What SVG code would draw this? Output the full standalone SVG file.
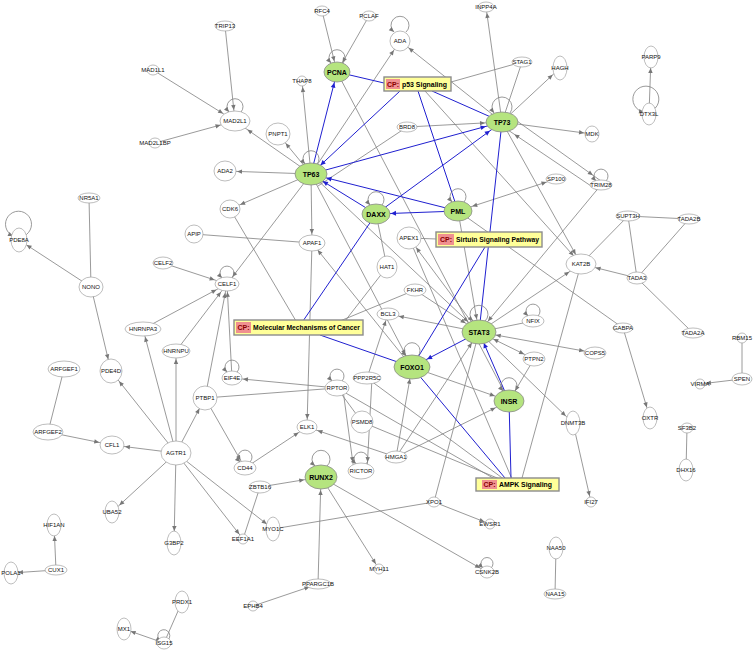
<svg xmlns="http://www.w3.org/2000/svg" width="755" height="651" viewBox="0 0 755 651">
<style>
.n ellipse{fill:#fff;stroke:#a0a0a0;stroke-width:0.7}
.g ellipse{fill:#b5e47f;stroke:#8a8a8a;stroke-width:0.8}
text{font-family:"Liberation Sans",Arial,sans-serif;font-size:6px;text-anchor:middle;dominant-baseline:central;fill:#111}
.g text{font-weight:bold;font-size:7px;fill:#000}
#edges line,#edges path{stroke:#808080;stroke-width:0.8;fill:none}
#edges .b{stroke:#2020d0;stroke-width:1}
.loop{stroke:#808080;stroke-width:0.8;fill:none}
.cpf{fill:#ffff99;stroke:#8c8c8c;stroke-width:1.4}
.cpl{fill:#f09090}
.cpt{font-weight:bold;font-size:7px;fill:#800;text-anchor:middle}
.cpn{font-weight:bold;font-size:7px;text-anchor:start;fill:#000}
</style>
<defs>
<marker id="g0" markerUnits="userSpaceOnUse" viewBox="-30 -5 35 10" markerWidth="35" markerHeight="10" refX="0" refY="0" orient="auto-start-reverse" overflow="visible"><path d="M-5,-2.2 L0,0 L-5,2.2z" fill="#777"/></marker>
<marker id="g6" markerUnits="userSpaceOnUse" viewBox="-30 -5 35 10" markerWidth="35" markerHeight="10" refX="0" refY="0" orient="auto-start-reverse" overflow="visible"><path d="M-11,-2.2 L-6,0 L-11,2.2z" fill="#777"/></marker>
<marker id="g7" markerUnits="userSpaceOnUse" viewBox="-30 -5 35 10" markerWidth="35" markerHeight="10" refX="0" refY="0" orient="auto-start-reverse" overflow="visible"><path d="M-12,-2.2 L-7,0 L-12,2.2z" fill="#777"/></marker>
<marker id="g8" markerUnits="userSpaceOnUse" viewBox="-30 -5 35 10" markerWidth="35" markerHeight="10" refX="0" refY="0" orient="auto-start-reverse" overflow="visible"><path d="M-13,-2.2 L-8,0 L-13,2.2z" fill="#777"/></marker>
<marker id="g9" markerUnits="userSpaceOnUse" viewBox="-30 -5 35 10" markerWidth="35" markerHeight="10" refX="0" refY="0" orient="auto-start-reverse" overflow="visible"><path d="M-14,-2.2 L-9,0 L-14,2.2z" fill="#777"/></marker>
<marker id="g10" markerUnits="userSpaceOnUse" viewBox="-30 -5 35 10" markerWidth="35" markerHeight="10" refX="0" refY="0" orient="auto-start-reverse" overflow="visible"><path d="M-15,-2.2 L-10,0 L-15,2.2z" fill="#777"/></marker>
<marker id="g11" markerUnits="userSpaceOnUse" viewBox="-30 -5 35 10" markerWidth="35" markerHeight="10" refX="0" refY="0" orient="auto-start-reverse" overflow="visible"><path d="M-16,-2.2 L-11,0 L-16,2.2z" fill="#777"/></marker>
<marker id="g12" markerUnits="userSpaceOnUse" viewBox="-30 -5 35 10" markerWidth="35" markerHeight="10" refX="0" refY="0" orient="auto-start-reverse" overflow="visible"><path d="M-17,-2.2 L-12,0 L-17,2.2z" fill="#777"/></marker>
<marker id="g13" markerUnits="userSpaceOnUse" viewBox="-30 -5 35 10" markerWidth="35" markerHeight="10" refX="0" refY="0" orient="auto-start-reverse" overflow="visible"><path d="M-18,-2.2 L-13,0 L-18,2.2z" fill="#777"/></marker>
<marker id="g14" markerUnits="userSpaceOnUse" viewBox="-30 -5 35 10" markerWidth="35" markerHeight="10" refX="0" refY="0" orient="auto-start-reverse" overflow="visible"><path d="M-19,-2.2 L-14,0 L-19,2.2z" fill="#777"/></marker>
<marker id="g15" markerUnits="userSpaceOnUse" viewBox="-30 -5 35 10" markerWidth="35" markerHeight="10" refX="0" refY="0" orient="auto-start-reverse" overflow="visible"><path d="M-20,-2.2 L-15,0 L-20,2.2z" fill="#777"/></marker>
<marker id="g16" markerUnits="userSpaceOnUse" viewBox="-30 -5 35 10" markerWidth="35" markerHeight="10" refX="0" refY="0" orient="auto-start-reverse" overflow="visible"><path d="M-21,-2.2 L-16,0 L-21,2.2z" fill="#777"/></marker>
<marker id="g17" markerUnits="userSpaceOnUse" viewBox="-30 -5 35 10" markerWidth="35" markerHeight="10" refX="0" refY="0" orient="auto-start-reverse" overflow="visible"><path d="M-22,-2.2 L-17,0 L-22,2.2z" fill="#777"/></marker>
<marker id="b11" markerUnits="userSpaceOnUse" viewBox="-30 -5 35 10" markerWidth="35" markerHeight="10" refX="0" refY="0" orient="auto" overflow="visible"><path d="M-16,-2.4 L-11,0 L-16,2.4z" fill="#2020d0"/></marker>
<marker id="b12" markerUnits="userSpaceOnUse" viewBox="-30 -5 35 10" markerWidth="35" markerHeight="10" refX="0" refY="0" orient="auto" overflow="visible"><path d="M-17,-2.4 L-12,0 L-17,2.4z" fill="#2020d0"/></marker>
<marker id="b13" markerUnits="userSpaceOnUse" viewBox="-30 -5 35 10" markerWidth="35" markerHeight="10" refX="0" refY="0" orient="auto" overflow="visible"><path d="M-18,-2.4 L-13,0 L-18,2.4z" fill="#2020d0"/></marker>
<marker id="b14" markerUnits="userSpaceOnUse" viewBox="-30 -5 35 10" markerWidth="35" markerHeight="10" refX="0" refY="0" orient="auto" overflow="visible"><path d="M-19,-2.4 L-14,0 L-19,2.4z" fill="#2020d0"/></marker>
<marker id="b15" markerUnits="userSpaceOnUse" viewBox="-30 -5 35 10" markerWidth="35" markerHeight="10" refX="0" refY="0" orient="auto" overflow="visible"><path d="M-20,-2.4 L-15,0 L-20,2.4z" fill="#2020d0"/></marker>
<marker id="b16" markerUnits="userSpaceOnUse" viewBox="-30 -5 35 10" markerWidth="35" markerHeight="10" refX="0" refY="0" orient="auto" overflow="visible"><path d="M-21,-2.4 L-16,0 L-21,2.4z" fill="#2020d0"/></marker>
<marker id="b17" markerUnits="userSpaceOnUse" viewBox="-30 -5 35 10" markerWidth="35" markerHeight="10" refX="0" refY="0" orient="auto" overflow="visible"><path d="M-22,-2.4 L-17,0 L-22,2.4z" fill="#2020d0"/></marker>
</defs>
<rect width="755" height="651" fill="#fff"/>
<g id="edges">
<line x1="225" y1="26" x2="235" y2="121" marker-end="url(#g11)"/>
<line x1="153" y1="70" x2="235" y2="121" marker-end="url(#g14)"/>
<line x1="155" y1="143" x2="235" y2="121" marker-end="url(#g15)"/>
<line x1="311" y1="174" x2="235" y2="121" marker-end="url(#g15)"/>
<line x1="311" y1="174" x2="278" y2="134" marker-end="url(#g12)"/>
<line x1="311" y1="174" x2="225" y2="171" marker-end="url(#g12)"/>
<line x1="311" y1="174" x2="230" y2="209" marker-end="url(#g11)"/>
<line x1="311" y1="174" x2="302" y2="81" marker-end="url(#g6)"/>
<line x1="311" y1="174" x2="312" y2="243" marker-end="url(#g9)"/>
<line x1="311" y1="174" x2="227" y2="284" marker-end="url(#g9)"/>
<line x1="311" y1="174" x2="400" y2="41" marker-end="url(#g11)"/>
<line x1="407" y1="127" x2="318" y2="186"/>
<line x1="322" y1="11" x2="337" y2="72" marker-end="url(#g11)"/>
<line x1="369" y1="16" x2="337" y2="72" marker-end="url(#g11)"/>
<line x1="502" y1="122" x2="400" y2="41" marker-end="url(#g11)"/>
<line x1="502" y1="122" x2="486" y2="7" marker-end="url(#g6)"/>
<line x1="522" y1="62" x2="451" y2="82"/>
<line x1="522" y1="62" x2="502" y2="122"/>
<line x1="502" y1="122" x2="560" y2="68" marker-end="url(#g10)"/>
<line x1="502" y1="122" x2="592" y2="134" marker-end="url(#g8)"/>
<line x1="407" y1="127" x2="502" y2="122" marker-end="url(#g17)"/>
<line x1="510" y1="116" x2="601" y2="181" marker-end="url(#g10)"/>
<line x1="597" y1="190" x2="502" y2="126" marker-end="url(#g15)"/>
<line x1="556" y1="179" x2="458" y2="211" marker-start="url(#g10)" marker-end="url(#g15)"/>
<line x1="230" y1="209" x2="296" y2="321"/>
<line x1="194" y1="234" x2="312" y2="243"/>
<line x1="312" y1="243" x2="307" y2="427" marker-end="url(#g8)"/>
<line x1="163" y1="263" x2="227" y2="284" marker-end="url(#g13)"/>
<line x1="143" y1="329" x2="227" y2="284" marker-end="url(#g12)"/>
<line x1="176" y1="351" x2="227" y2="284" marker-end="url(#g10)"/>
<line x1="205" y1="398" x2="227" y2="284" marker-end="url(#g9)"/>
<line x1="232" y1="378" x2="227" y2="284" marker-end="url(#g8)"/>
<line x1="176" y1="453" x2="143" y2="329" marker-end="url(#g8)"/>
<line x1="176" y1="453" x2="176" y2="351" marker-end="url(#g8)"/>
<line x1="176" y1="453" x2="111" y2="371" marker-end="url(#g13)"/>
<line x1="176" y1="453" x2="205" y2="398" marker-end="url(#g12)"/>
<line x1="176" y1="453" x2="112" y2="445" marker-end="url(#g13)"/>
<line x1="48" y1="432" x2="112" y2="445" marker-end="url(#g13)"/>
<line x1="64" y1="369" x2="48" y2="432"/>
<line x1="176" y1="453" x2="112" y2="512" marker-end="url(#g10)"/>
<line x1="176" y1="453" x2="174" y2="543" marker-end="url(#g12)"/>
<line x1="176" y1="453" x2="243" y2="539" marker-end="url(#g6)"/>
<line x1="176" y1="453" x2="273" y2="529" marker-end="url(#g8)"/>
<line x1="91" y1="287" x2="19" y2="240" marker-end="url(#g9)"/>
<line x1="91" y1="287" x2="111" y2="371" marker-end="url(#g12)"/>
<line x1="89" y1="198" x2="91" y2="287"/>
<line x1="337" y1="388" x2="232" y2="378" marker-end="url(#g11)"/>
<line x1="205" y1="398" x2="337" y2="388"/>
<line x1="205" y1="398" x2="245" y2="468" marker-end="url(#g9)"/>
<line x1="245" y1="468" x2="307" y2="427" marker-end="url(#g10)"/>
<line x1="337" y1="388" x2="362" y2="422"/>
<line x1="343" y1="390" x2="354" y2="471" marker-end="url(#g9)"/>
<line x1="372" y1="378" x2="367" y2="471" marker-end="url(#g9)"/>
<line x1="396" y1="457" x2="307" y2="427" marker-end="url(#g11)"/>
<line x1="396" y1="457" x2="412" y2="367" marker-end="url(#g12)"/>
<line x1="396" y1="457" x2="509" y2="401" marker-end="url(#g15)"/>
<line x1="396" y1="457" x2="479" y2="332" marker-end="url(#g13)"/>
<line x1="260" y1="487" x2="321" y2="477" marker-end="url(#g17)"/>
<line x1="260" y1="487" x2="243" y2="539"/>
<line x1="321" y1="477" x2="379" y2="569" marker-end="url(#g6)"/>
<line x1="321" y1="477" x2="487" y2="572" marker-end="url(#g8)"/>
<line x1="273" y1="529" x2="434" y2="502"/>
<line x1="434" y1="502" x2="490" y2="524" marker-end="url(#g6)"/>
<line x1="479" y1="332" x2="434" y2="502"/>
<line x1="318" y1="584" x2="321" y2="477" marker-end="url(#g13)"/>
<line x1="253" y1="606" x2="318" y2="584" marker-end="url(#g9)"/>
<line x1="628" y1="216" x2="689" y2="219"/>
<line x1="628" y1="216" x2="581" y2="264"/>
<line x1="628" y1="216" x2="637" y2="278"/>
<line x1="689" y1="219" x2="637" y2="278"/>
<line x1="637" y1="278" x2="581" y2="264" marker-end="url(#g15)"/>
<line x1="637" y1="278" x2="693" y2="333"/>
<line x1="502" y1="122" x2="581" y2="264" marker-end="url(#g11)"/>
<line x1="425" y1="91" x2="581" y2="264" marker-end="url(#g11)"/>
<line x1="479" y1="332" x2="581" y2="264" marker-end="url(#g14)"/>
<line x1="581" y1="264" x2="522" y2="478"/>
<line x1="458" y1="211" x2="623" y2="328"/>
<line x1="623" y1="328" x2="650" y2="418" marker-end="url(#g11)"/>
<line x1="573" y1="423" x2="591" y2="502" marker-end="url(#g6)"/>
<line x1="479" y1="332" x2="573" y2="423" marker-end="url(#g10)"/>
<line x1="479" y1="332" x2="595" y2="353" marker-start="url(#g17)" marker-end="url(#g11)"/>
<line x1="479" y1="332" x2="534" y2="359" marker-start="url(#g16)" marker-end="url(#g11)"/>
<line x1="534" y1="359" x2="509" y2="401" marker-end="url(#g12)"/>
<line x1="412" y1="367" x2="509" y2="401" marker-end="url(#g15)"/>
<line x1="533" y1="321" x2="479" y2="332"/>
<line x1="601" y1="185" x2="479" y2="332" marker-end="url(#g14)"/>
<line x1="479" y1="332" x2="409" y2="238" marker-end="url(#g12)"/>
<line x1="409" y1="238" x2="437" y2="239"/>
<line x1="415" y1="290" x2="479" y2="332" marker-end="url(#g16)"/>
<line x1="479" y1="332" x2="388" y2="314" marker-end="url(#g11)"/>
<line x1="311" y1="174" x2="479" y2="332" marker-end="url(#g15)"/>
<line x1="387" y1="267" x2="376" y2="214"/>
<line x1="311" y1="174" x2="412" y2="367" marker-end="url(#g14)"/>
<line x1="458" y1="211" x2="479" y2="332" marker-end="url(#g13)"/>
<line x1="367" y1="378" x2="388" y2="314" marker-end="url(#g7)"/>
<line x1="412" y1="367" x2="312" y2="243" marker-end="url(#g9)"/>
<line x1="337" y1="72" x2="509" y2="401"/>
<line x1="340" y1="321" x2="415" y2="290"/>
<line x1="345" y1="321" x2="387" y2="267"/>
<line x1="337" y1="388" x2="500" y2="482"/>
<line x1="367" y1="378" x2="505" y2="480"/>
<line x1="362" y1="422" x2="502" y2="480"/>
<line x1="409" y1="238" x2="512" y2="479"/>
<line x1="649" y1="114" x2="651" y2="57" marker-end="url(#g11)"/>
<line x1="56" y1="570" x2="54" y2="525" marker-end="url(#g11)"/>
<line x1="56" y1="570" x2="11" y2="573" marker-end="url(#g7)"/>
<line x1="164" y1="643" x2="124" y2="629" marker-end="url(#g7)"/>
<line x1="182" y1="602" x2="164" y2="643"/>
<line x1="556" y1="548" x2="555" y2="594"/>
<line x1="687" y1="428" x2="686" y2="470"/>
<line x1="742" y1="338" x2="742" y2="379"/>
<line x1="742" y1="379" x2="700" y2="384" marker-end="url(#g6)"/>
<line class="b" x1="337" y1="72" x2="384" y2="83"/>
<line class="b" x1="311" y1="174" x2="337" y2="72" marker-end="url(#b11)"/>
<line class="b" x1="400" y1="91" x2="311" y2="174" marker-end="url(#b13)"/>
<line class="b" x1="418" y1="91" x2="458" y2="211"/>
<line class="b" x1="432" y1="91" x2="502" y2="122"/>
<line class="b" x1="458" y1="211" x2="376" y2="214" marker-end="url(#b15)"/>
<line class="b" x1="458" y1="211" x2="311" y2="174" marker-end="url(#b16)"/>
<line class="b" x1="376" y1="214" x2="311" y2="174" marker-end="url(#b14)"/>
<line class="b" x1="376" y1="214" x2="502" y2="122" marker-end="url(#b15)"/>
<line class="b" x1="311" y1="174" x2="502" y2="122" marker-end="url(#b17)"/>
<line class="b" x1="502" y1="122" x2="479" y2="332"/>
<line class="b" x1="485" y1="247" x2="412" y2="367"/>
<line class="b" x1="303" y1="321" x2="376" y2="214"/>
<line class="b" x1="320" y1="335" x2="412" y2="367"/>
<line class="b" x1="479" y1="332" x2="412" y2="367" marker-end="url(#b17)"/>
<line class="b" x1="509" y1="401" x2="479" y2="332" marker-end="url(#b12)"/>
<line class="b" x1="511" y1="478" x2="509" y2="401"/>
<line class="b" x1="505" y1="478" x2="412" y2="367"/>
</g>
<g id="loops">
<path class="loop" d="M241,112 A8,8 0 1 0 229,112" marker-end="url(#g0)"/>
<path class="loop" d="M343,63 A8,8 0 1 0 331,63" marker-end="url(#g0)"/>
<path class="loop" d="M406,32 A9,9 0 1 0 394,32" marker-end="url(#g0)"/>
<path class="loop" d="M510,113 A10,10 0 1 0 494,113" marker-end="url(#g0)"/>
<path class="loop" d="M317,164 A8,8 0 1 0 305,164" marker-end="url(#g0)"/>
<path class="loop" d="M382,205 A8,8 0 1 0 370,205" marker-end="url(#g0)"/>
<path class="loop" d="M464,202 A8,8 0 1 0 452,202" marker-end="url(#g0)"/>
<path class="loop" d="M606,181 A7,7 0 1 0 596,181" marker-end="url(#g0)"/>
<path class="loop" d="M232,278 A7,7 0 1 0 222,278" marker-end="url(#g0)"/>
<path class="loop" d="M237,372 A7,7 0 1 0 227,372" marker-end="url(#g0)"/>
<path class="loop" d="M485,321 A9,9 0 1 0 473,321" marker-end="url(#g0)"/>
<path class="loop" d="M538,316 A7,7 0 1 0 528,316" marker-end="url(#g0)"/>
<path class="loop" d="M418,356 A8,8 0 1 0 406,356" marker-end="url(#g0)"/>
<path class="loop" d="M515,391 A8,8 0 1 0 503,391" marker-end="url(#g0)"/>
<path class="loop" d="M342,381 A7,7 0 1 0 332,381" marker-end="url(#g0)"/>
<path class="loop" d="M366,464 A7,7 0 1 0 356,464" marker-end="url(#g0)"/>
<path class="loop" d="M327,466 A9,9 0 1 0 315,466" marker-end="url(#g0)"/>
<path class="loop" d="M250,462 A7,7 0 1 0 240,462" marker-end="url(#g0)"/>
<path class="loop" d="M491,568 A6,6 0 1 0 483,568" marker-end="url(#g0)"/>
<path class="loop" d="M168,640 A6,6 0 1 0 161,641" marker-end="url(#g0)"/>
<path class="loop" d="M24,236 A13,13 0 1 0 13,236" marker-end="url(#g0)"/>
<path class="loop" d="M653,110 A13,13 0 1 0 644,112" marker-end="url(#g0)"/>
</g>
<g id="nodes">
<g id="TRIP13" class="n"><ellipse cx="225" cy="26" rx="10" ry="5"/><text x="225" y="26">TRIP13</text></g>
<g id="RFC4" class="n"><ellipse cx="322" cy="11" rx="7" ry="5"/><text x="322" y="11">RFC4</text></g>
<g id="PCLAF" class="n"><ellipse cx="369" cy="16" rx="7" ry="5"/><text x="369" y="16">PCLAF</text></g>
<g id="ADA" class="n"><ellipse cx="400" cy="41" rx="10" ry="10"/><text x="400" y="41">ADA</text></g>
<g id="INPP4A" class="n"><ellipse cx="486" cy="7" rx="8" ry="5"/><text x="486" y="7">INPP4A</text></g>
<g id="MAD1L1" class="n"><ellipse cx="153" cy="70" rx="6" ry="5"/><text x="153" y="70">MAD1L1</text></g>
<g id="MAD2L1" class="n"><ellipse cx="235" cy="121" rx="15" ry="10"/><text x="235" y="121">MAD2L1</text></g>
<g id="MAD2L1BP" class="n"><ellipse cx="155" cy="143" rx="6" ry="5"/><text x="155" y="143">MAD2L1BP</text></g>
<g id="NR5A1" class="n"><ellipse cx="89" cy="198" rx="11" ry="5"/><text x="89" y="198">NR5A1</text></g>
<g id="THAP8" class="n"><ellipse cx="302" cy="81" rx="5" ry="5"/><text x="302" y="81">THAP8</text></g>
<g id="PCNA" class="g"><ellipse cx="337" cy="72" rx="13" ry="10"/><text x="337" y="72">PCNA</text></g>
<g id="STAG1" class="n"><ellipse cx="522" cy="62" rx="10" ry="5"/><text x="522" y="62">STAG1</text></g>
<g id="HAGH" class="n"><ellipse cx="560" cy="68" rx="7" ry="12"/><text x="560" y="68">HAGH</text></g>
<g id="TP73" class="g"><ellipse cx="502" cy="122" rx="16" ry="10"/><text x="502" y="122">TP73</text></g>
<g id="PNPT1" class="n"><ellipse cx="278" cy="134" rx="12" ry="11"/><text x="278" y="134">PNPT1</text></g>
<g id="BRD8" class="n"><ellipse cx="407" cy="127" rx="10" ry="5"/><text x="407" y="127">BRD8</text></g>
<g id="MDK" class="n"><ellipse cx="592" cy="134" rx="7" ry="8"/><text x="592" y="134">MDK</text></g>
<g id="ADA2" class="n"><ellipse cx="225" cy="171" rx="11" ry="10"/><text x="225" y="171">ADA2</text></g>
<g id="TP63" class="g"><ellipse cx="311" cy="174" rx="16" ry="11"/><text x="311" y="174">TP63</text></g>
<g id="DAXX" class="g"><ellipse cx="376" cy="214" rx="14" ry="10"/><text x="376" y="214">DAXX</text></g>
<g id="PML" class="g"><ellipse cx="458" cy="211" rx="14" ry="10"/><text x="458" y="211">PML</text></g>
<g id="SP100" class="n"><ellipse cx="556" cy="179" rx="10" ry="5"/><text x="556" y="179">SP100</text></g>
<g id="TRIM28" class="n"><ellipse cx="601" cy="185" rx="11" ry="5"/><text x="601" y="185">TRIM28</text></g>
<g id="CDK6" class="n"><ellipse cx="230" cy="209" rx="10" ry="9"/><text x="230" y="209">CDK6</text></g>
<g id="APIP" class="n"><ellipse cx="194" cy="234" rx="9" ry="9"/><text x="194" y="234">APIP</text></g>
<g id="APAF1" class="n"><ellipse cx="312" cy="243" rx="13" ry="8"/><text x="312" y="243">APAF1</text></g>
<g id="CELF2" class="n"><ellipse cx="163" cy="263" rx="10" ry="6"/><text x="163" y="263">CELF2</text></g>
<g id="CELF1" class="n"><ellipse cx="227" cy="284" rx="12" ry="7"/><text x="227" y="284">CELF1</text></g>
<g id="HAT1" class="n"><ellipse cx="387" cy="267" rx="10" ry="11"/><text x="387" y="267">HAT1</text></g>
<g id="APEX1" class="n"><ellipse cx="409" cy="238" rx="12" ry="11"/><text x="409" y="238">APEX1</text></g>
<g id="SUPT3H" class="n"><ellipse cx="628" cy="216" rx="12" ry="5"/><text x="628" y="216">SUPT3H</text></g>
<g id="TADA2B" class="n"><ellipse cx="689" cy="219" rx="11" ry="5"/><text x="689" y="219">TADA2B</text></g>
<g id="KAT2B" class="n"><ellipse cx="581" cy="264" rx="15" ry="10"/><text x="581" y="264">KAT2B</text></g>
<g id="TADA3" class="n"><ellipse cx="637" cy="278" rx="10" ry="6"/><text x="637" y="278">TADA3</text></g>
<g id="NONO" class="n"><ellipse cx="91" cy="287" rx="12" ry="10"/><text x="91" y="287">NONO</text></g>
<g id="PDE8A" class="n"><ellipse cx="19" cy="240" rx="8" ry="12"/><text x="19" y="240">PDE8A</text></g>
<g id="HNRNPA3" class="n"><ellipse cx="143" cy="329" rx="18" ry="7"/><text x="143" y="329">HNRNPA3</text></g>
<g id="HNRNPU" class="n"><ellipse cx="176" cy="351" rx="14" ry="7"/><text x="176" y="351">HNRNPU</text></g>
<g id="FKHR" class="n"><ellipse cx="415" cy="290" rx="11" ry="6"/><text x="415" y="290">FKHR</text></g>
<g id="BCL3" class="n"><ellipse cx="388" cy="314" rx="11" ry="6"/><text x="388" y="314">BCL3</text></g>
<g id="STAT3" class="g"><ellipse cx="479" cy="332" rx="17" ry="12"/><text x="479" y="332">STAT3</text></g>
<g id="NFIX" class="n"><ellipse cx="533" cy="321" rx="11" ry="6"/><text x="533" y="321">NFIX</text></g>
<g id="GABPA" class="n"><ellipse cx="623" cy="328" rx="10" ry="5"/><text x="623" y="328">GABPA</text></g>
<g id="TADA2A" class="n"><ellipse cx="693" cy="333" rx="11" ry="5"/><text x="693" y="333">TADA2A</text></g>
<g id="RBM15" class="n"><ellipse cx="742" cy="338" rx="5" ry="5"/><text x="742" y="338">RBM15</text></g>
<g id="COPS5" class="n"><ellipse cx="595" cy="353" rx="11" ry="6"/><text x="595" y="353">COPS5</text></g>
<g id="PTPN2" class="n"><ellipse cx="534" cy="359" rx="11" ry="7"/><text x="534" y="359">PTPN2</text></g>
<g id="FOXO1" class="g"><ellipse cx="412" cy="367" rx="18" ry="12"/><text x="412" y="367">FOXO1</text></g>
<g id="PDE4D" class="n"><ellipse cx="111" cy="371" rx="11" ry="12"/><text x="111" y="371">PDE4D</text></g>
<g id="ARFGEF1" class="n"><ellipse cx="64" cy="369" rx="16" ry="8"/><text x="64" y="369">ARFGEF1</text></g>
<g id="PPP2R5C" class="n"><ellipse cx="367" cy="378" rx="14" ry="6"/><text x="367" y="378">PPP2R5C</text></g>
<g id="RPTOR" class="n"><ellipse cx="337" cy="388" rx="12" ry="8"/><text x="337" y="388">RPTOR</text></g>
<g id="EIF4E" class="n"><ellipse cx="232" cy="378" rx="10" ry="7"/><text x="232" y="378">EIF4E</text></g>
<g id="PTBP1" class="n"><ellipse cx="205" cy="398" rx="12" ry="12"/><text x="205" y="398">PTBP1</text></g>
<g id="PSMD8" class="n"><ellipse cx="362" cy="422" rx="11" ry="11"/><text x="362" y="422">PSMD8</text></g>
<g id="INSR" class="g"><ellipse cx="509" cy="401" rx="15" ry="11"/><text x="509" y="401">INSR</text></g>
<g id="DNMT3B" class="n"><ellipse cx="573" cy="423" rx="7" ry="12"/><text x="573" y="423">DNMT3B</text></g>
<g id="OXTR" class="n"><ellipse cx="650" cy="418" rx="7" ry="11"/><text x="650" y="418">OXTR</text></g>
<g id="SF3B2" class="n"><ellipse cx="687" cy="428" rx="6" ry="5"/><text x="687" y="428">SF3B2</text></g>
<g id="SPEN" class="n"><ellipse cx="742" cy="379" rx="10" ry="6"/><text x="742" y="379">SPEN</text></g>
<g id="VIRMA" class="n"><ellipse cx="700" cy="384" rx="5" ry="5"/><text x="700" y="384">VIRMA</text></g>
<g id="ARFGEF2" class="n"><ellipse cx="48" cy="432" rx="15" ry="8"/><text x="48" y="432">ARFGEF2</text></g>
<g id="CFL1" class="n"><ellipse cx="112" cy="445" rx="12" ry="9"/><text x="112" y="445">CFL1</text></g>
<g id="AGTR1" class="n"><ellipse cx="176" cy="453" rx="15" ry="12"/><text x="176" y="453">AGTR1</text></g>
<g id="ELK1" class="n"><ellipse cx="307" cy="427" rx="10" ry="7"/><text x="307" y="427">ELK1</text></g>
<g id="CD44" class="n"><ellipse cx="245" cy="468" rx="11" ry="7"/><text x="245" y="468">CD44</text></g>
<g id="RICTOR" class="n"><ellipse cx="361" cy="471" rx="13" ry="8"/><text x="361" y="471">RICTOR</text></g>
<g id="HMGA1" class="n"><ellipse cx="396" cy="457" rx="11" ry="6"/><text x="396" y="457">HMGA1</text></g>
<g id="RUNX2" class="g"><ellipse cx="321" cy="477" rx="16" ry="12"/><text x="321" y="477">RUNX2</text></g>
<g id="ZBTB16" class="n"><ellipse cx="260" cy="487" rx="11" ry="6"/><text x="260" y="487">ZBTB16</text></g>
<g id="IFI27" class="n"><ellipse cx="591" cy="502" rx="5" ry="5"/><text x="591" y="502">IFI27</text></g>
<g id="XPO1" class="n"><ellipse cx="434" cy="502" rx="6" ry="5"/><text x="434" y="502">XPO1</text></g>
<g id="UBA52" class="n"><ellipse cx="112" cy="512" rx="7" ry="11"/><text x="112" y="512">UBA52</text></g>
<g id="MYO1C" class="n"><ellipse cx="273" cy="529" rx="7" ry="12"/><text x="273" y="529">MYO1C</text></g>
<g id="EEF1A1" class="n"><ellipse cx="243" cy="539" rx="5" ry="5"/><text x="243" y="539">EEF1A1</text></g>
<g id="DHX16" class="n"><ellipse cx="686" cy="470" rx="7" ry="11"/><text x="686" y="470">DHX16</text></g>
<g id="G3BP2" class="n"><ellipse cx="174" cy="543" rx="7" ry="12"/><text x="174" y="543">G3BP2</text></g>
<g id="EWSR1" class="n"><ellipse cx="490" cy="524" rx="5" ry="5"/><text x="490" y="524">EWSR1</text></g>
<g id="HIF1AN" class="n"><ellipse cx="54" cy="525" rx="7" ry="11"/><text x="54" y="525">HIF1AN</text></g>
<g id="MYH11" class="n"><ellipse cx="379" cy="569" rx="5" ry="5"/><text x="379" y="569">MYH11</text></g>
<g id="CSNK2B" class="n"><ellipse cx="487" cy="572" rx="7" ry="6"/><text x="487" y="572">CSNK2B</text></g>
<g id="NAA50" class="n"><ellipse cx="556" cy="548" rx="7" ry="11"/><text x="556" y="548">NAA50</text></g>
<g id="NAA15" class="n"><ellipse cx="555" cy="594" rx="11" ry="5"/><text x="555" y="594">NAA15</text></g>
<g id="CUX1" class="n"><ellipse cx="56" cy="570" rx="11" ry="5"/><text x="56" y="570">CUX1</text></g>
<g id="POLA1" class="n"><ellipse cx="11" cy="573" rx="7" ry="11"/><text x="11" y="573">POLA1</text></g>
<g id="PPARGC1B" class="n"><ellipse cx="318" cy="584" rx="13" ry="5"/><text x="318" y="584">PPARGC1B</text></g>
<g id="EPHB4" class="n"><ellipse cx="253" cy="606" rx="5" ry="5"/><text x="253" y="606">EPHB4</text></g>
<g id="PRDX1" class="n"><ellipse cx="182" cy="602" rx="7" ry="11"/><text x="182" y="602">PRDX1</text></g>
<g id="MX1" class="n"><ellipse cx="124" cy="629" rx="7" ry="11"/><text x="124" y="629">MX1</text></g>
<g id="ISG15" class="n"><ellipse cx="164" cy="643" rx="7" ry="6"/><text x="164" y="643">ISG15</text></g>
<g id="PARP9" class="n"><ellipse cx="651" cy="57" rx="7" ry="11"/><text x="651" y="57">PARP9</text></g>
<g id="DTX3L" class="n"><ellipse cx="649" cy="114" rx="7" ry="11"/><text x="649" y="114">DTX3L</text></g>
</g>
<g id="pathways">
<g id="cp-p53"><rect class="cpf" x="384" y="77" width="67" height="14"/><rect class="cpl" x="386" y="79" width="14" height="10"/><text class="cpt" x="393" y="84">CP:</text><text class="cpn" x="402" y="84" textLength="45" lengthAdjust="spacingAndGlyphs">p53 Signaling</text></g>
<g id="cp-sirtuin"><rect class="cpf" x="436" y="232" width="106" height="15"/><rect class="cpl" x="438" y="234" width="16" height="11"/><text class="cpt" x="446" y="239.5">CP:</text><text class="cpn" x="456" y="239.5" textLength="83" lengthAdjust="spacingAndGlyphs">Sirtuin Signaling Pathway</text></g>
<g id="cp-mmc"><rect class="cpf" x="234" y="320" width="129" height="15"/><rect class="cpl" x="236" y="322" width="15" height="11"/><text class="cpt" x="243.5" y="327.5">CP:</text><text class="cpn" x="253" y="327.5" textLength="107" lengthAdjust="spacingAndGlyphs">Molecular Mechanisms of Cancer</text></g>
<g id="cp-ampk"><rect class="cpf" x="476" y="478" width="83" height="13"/><rect class="cpl" x="482" y="480" width="15" height="9"/><text class="cpt" x="489.5" y="484.5">CP:</text><text class="cpn" x="499" y="484.5" textLength="53" lengthAdjust="spacingAndGlyphs">AMPK Signaling</text></g>
</g>
</svg>
